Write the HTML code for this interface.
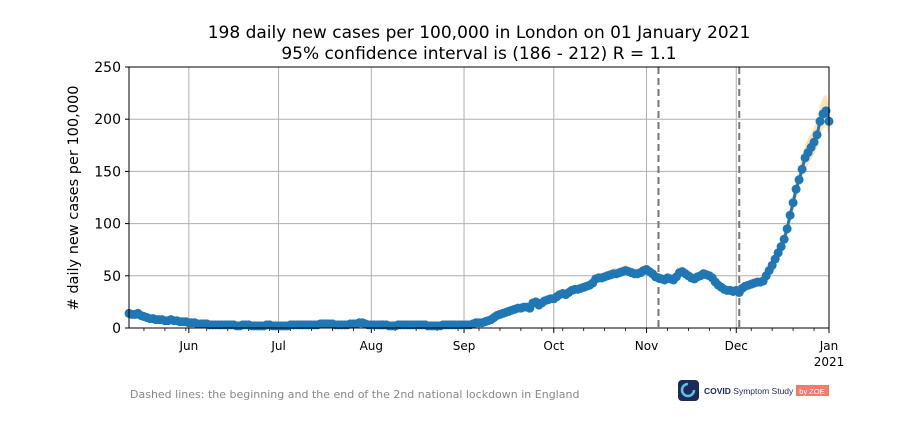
<!DOCTYPE html>
<html><head><meta charset="utf-8"><style>
body{margin:0;background:#fff;width:919px;height:421px;overflow:hidden;font-family:"DejaVu Sans","Liberation Sans",sans-serif}
</style></head><body>
<svg id="chart" width="919" height="421" xmlns="http://www.w3.org/2000/svg">
<text x="479" y="38" text-anchor="middle" font-size="17">198 daily new cases per 100,000 in London on 01 January 2021</text>
<text x="479" y="59" text-anchor="middle" font-size="17">95% confidence interval is (186 - 212) R = 1.1</text>
<text transform="translate(78,198) rotate(-90)" text-anchor="middle" font-size="14.5"># daily new cases per 100,000</text>
<text x="130" y="398" font-size="11" fill="#888">Dashed lines: the beginning and the end of the 2nd national lockdown in England</text>
<g>
<rect x="678" y="380" width="21" height="21" rx="4" fill="#1d2a5a"/>
<circle cx="688" cy="390" r="6" fill="none" stroke="#5fc3e8" stroke-width="2.5" stroke-dasharray="28 10"/>
<text x="704" y="394" font-size="8.5" font-weight="bold" fill="#1d2a5a" font-family="Liberation Sans, sans-serif">COVID <tspan font-weight="normal">Symptom Study</tspan></text>
<rect x="796" y="385" width="33" height="11" fill="#f47a6c"/>
<text x="812" y="394" font-size="7.5" fill="#fff" text-anchor="middle" font-family="Liberation Sans, sans-serif">by ZOE</text>
</g>
<g id="plot"></g>
</svg>
<script>
const values = [
14,13,13,14,12,11,10,9,9,8,8,8,7,7,8,7,7,6,6,6,
5,5,5,4,4,4,4,3,3,3,3,3,3,3,3,3,2,2,3,3,3,2,2,2,2,2,3,3,2,2,
2,2,2,2,3,3,3,3,3,3,3,3,3,3,4,4,4,4,4,3,3,3,3,3,4,4,4,5,5,4,3,
3,3,3,3,3,3,2,2,2,3,3,3,3,3,3,3,3,3,3,2,2,2,2,2,3,3,3,3,3,3,3,
3,3,3,4,5,5,5,6,7,8,10,12,13,14,15,16,17,18,19,19,20,20,19,24,25,22,24,26,27,28,
28,30,32,33,32,34,36,37,37,38,39,40,41,43,47,48,48,49,50,51,52,52,53,54,55,54,53,52,52,53,55,
56,54,52,49,48,47,46,48,47,46,49,53,54,52,50,48,47,49,50,52,51,50,48,44,41,39,37,36,36,35,
36,34,38,40,41,42,43,44,44,45,50,55,60,66,72,78,85,95,108,120,133,142,152,163,168,173,178,185,198,205,208,
198];
const monthLabels = ["Jun","Jul","Aug","Sep","Oct","Nov","Dec","Jan"];
const monthDays = [20,50,81,112,142,173,203,234];
const yTicks = [0,50,100,150,200,250];
const lockdownDays = [177,204];
const NS="http://www.w3.org/2000/svg";
const X0=129,X1=829,Y0=328,Y1=67,maxDay=234,yMax=250;
const x=d=>X0+(X1-X0)*d/maxDay;
const y=v=>Y0-(Y0-Y1)*v/yMax;
const g=document.getElementById('plot');
function mk(t,a){const e=document.createElementNS(NS,t);for(const k in a)e.setAttribute(k,a[k]);g.appendChild(e);return e;}
yTicks.forEach(t=>{
 const l=mk('line',{x1:X0,x2:X1,y1:y(t),y2:y(t),stroke:'#b0b0b0','stroke-width':1});
 
 
 mk('line',{x1:X0-4,x2:X0,y1:y(t),y2:y(t),stroke:'#000'});
 const tx=mk('text',{x:X0-8,y:y(t)+5,'text-anchor':'end','font-size':14});
 tx.textContent=t;
 
 
});
monthDays.forEach((d,i)=>{
 const l=mk('line',{x1:x(d),x2:x(d),y1:Y1,y2:Y0,stroke:'#b0b0b0','stroke-width':1});
 
 
 mk('line',{x1:x(d),x2:x(d),y1:Y0,y2:Y0+5,stroke:'#000'});
 const tx=mk('text',{x:x(d),y:Y0+22,'text-anchor':'middle','font-size':12});
 tx.textContent=monthLabels[i];
 
 
});
const yr=mk('text',{x:x(234),y:Y0+38,'text-anchor':'middle','font-size':12});
yr.textContent='2021';


for(let d=5;d<=maxDay;d+=7){mk('line',{x1:x(d),x2:x(d),y1:Y0,y2:Y0+3,stroke:'#000','stroke-width':0.8});}
let up=values.map((v,i)=>x(i)+','+y(v*1.07+1.5)),lo=values.map((v,i)=>x(i)+','+y(Math.max(0,v*0.94-1.5))).reverse();
const band=mk('polygon',{points:up.concat(lo).join(' '),fill:'#fde3b5'});


lockdownDays.forEach(d=>{
 const l=mk('line',{x1:x(d),x2:x(d),y1:Y1,y2:Y0,stroke:'#777','stroke-width':2,'stroke-dasharray':'7,4'});
 
 
});
const line=mk('polyline',{points:values.map((v,i)=>x(i)+','+y(v)).join(' '),fill:'none',stroke:'#1f77b4','stroke-width':3});


values.forEach((v,i)=>{
 const c=mk('circle',{cx:x(i),cy:y(v),r:4.5,fill:'#1f77b4'});
 
 
});
const fr=mk('rect',{x:X0,y:Y1,width:X1-X0,height:Y0-Y1,fill:'none',stroke:'#000','stroke-width':1});


</script>
</body></html>
